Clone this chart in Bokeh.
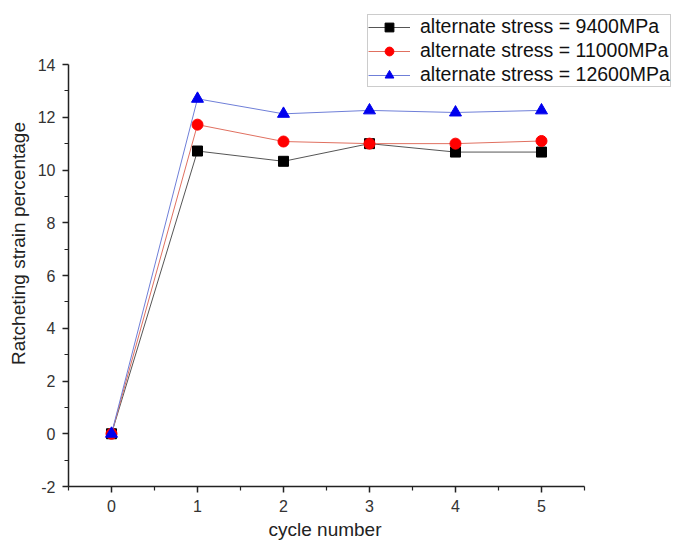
from bokeh.plotting import figure
from bokeh.models import (Legend, LegendItem, Range1d, FixedTicker,
                          PrintfTickFormatter, Title)
from bokeh.embed import file_html
from bokeh.resources import INLINE

cycles = [0, 1, 2, 3, 4, 5]
strain_9400 = [0.0, 10.72, 10.33, 11.0, 10.68, 10.68]
strain_11000 = [0.0, 11.72, 11.08, 11.0, 11.0, 11.1]
strain_12600 = [0.0, 12.7, 12.13, 12.26, 12.18, 12.26]
labels = [
    "alternate stress = 9400MPa",
    "alternate stress = 11000MPa",
    "alternate stress = 12600MPa",
]

FONT = "Liberation Sans"

# The frame reaches the top and right edges so the legend can sit above the
# axes' end; the axis lines themselves are bounded to the data window.
p = figure(
    width=673, height=548,
    output_backend="svg", toolbar_location=None,
    x_range=Range1d(-0.5, 6.535), y_range=Range1d(-2, 16.427),
    min_border_left=68, min_border_right=0,
    min_border_top=0, min_border_bottom=62,
)
p.outline_line_color = None
p.grid.visible = False
p.background_fill_color = "white"
p.border_fill_color = "white"

for ax in (p.xaxis[0], p.yaxis[0]):
    ax.axis_line_color = "#222222"
    ax.axis_line_width = 1.5
    ax.major_tick_line_color = "#222222"
    ax.minor_tick_line_color = "#222222"
    ax.major_tick_line_width = 1.5
    ax.minor_tick_line_width = 1.2
    ax.major_tick_out = 6
    ax.major_tick_in = 0
    ax.minor_tick_out = 4
    ax.minor_tick_in = 0
    ax.major_label_text_font = FONT
    ax.major_label_text_font_size = "16px"
    ax.major_label_text_color = "#333333"
    ax.axis_label_text_font = FONT
    ax.axis_label_text_font_size = "19px"
    ax.axis_label_text_font_style = "normal"
    ax.axis_label_text_color = "#222222"
    ax.formatter = PrintfTickFormatter(format="%d")

p.xaxis.bounds = (-0.5, 5.5)
p.yaxis.bounds = (-2, 14)
p.xaxis.ticker = FixedTicker(ticks=list(range(0, 6)),
                             minor_ticks=[x + 0.5 for x in range(-1, 6)])
p.yaxis.ticker = FixedTicker(ticks=list(range(-2, 15, 2)),
                             minor_ticks=list(range(-1, 14, 2)))
p.yaxis.axis_label = "Ratcheting strain percentage"
p.xaxis.major_label_standoff = 7
p.yaxis.major_label_standoff = 7
p.yaxis.axis_label_standoff = 6

# x-axis caption centred under the bounded axis line rather than the frame
p.add_layout(Title(text="cycle number", align="left", offset=200,
                   text_font=FONT, text_font_size="19px",
                   text_font_style="normal", text_color="#222222",
                   vertical_align="top", standoff=8), "below")

l1 = p.line(cycles, strain_9400, line_color="#555555", line_width=1)
m1 = p.scatter(cycles, strain_9400, marker="square", size=10,
               fill_color="black", line_color="black")
l2 = p.line(cycles, strain_11000, line_color="#e07060", line_width=1)
m2 = p.scatter(cycles, strain_11000, marker="circle", size=11,
               fill_color="#ff0000", line_color="#ff0000")
l3 = p.line(cycles, strain_12600, line_color="#6f7fd8", line_width=1)
m3 = p.scatter(cycles, strain_12600, marker="triangle", size=12,
               fill_color="#0000ee", line_color="#0000ee")

legend = Legend(
    items=[
        LegendItem(label=labels[0], renderers=[l1, m1]),
        LegendItem(label=labels[1], renderers=[l2, m2]),
        LegendItem(label=labels[2], renderers=[l3, m3]),
    ],
    location=(299, 399),
    label_text_font=FONT,
    label_text_font_size="19.5px",
    label_text_color="#111111",
    glyph_width=42, glyph_height=22,
    label_height=22, label_standoff=10,
    spacing=1, padding=0, margin=0,
    border_line_color="#999999", border_line_width=1,
    background_fill_color="white", background_fill_alpha=1,
)
p.add_layout(legend, "center")

open("out.html", "w").write(file_html(p, INLINE))
